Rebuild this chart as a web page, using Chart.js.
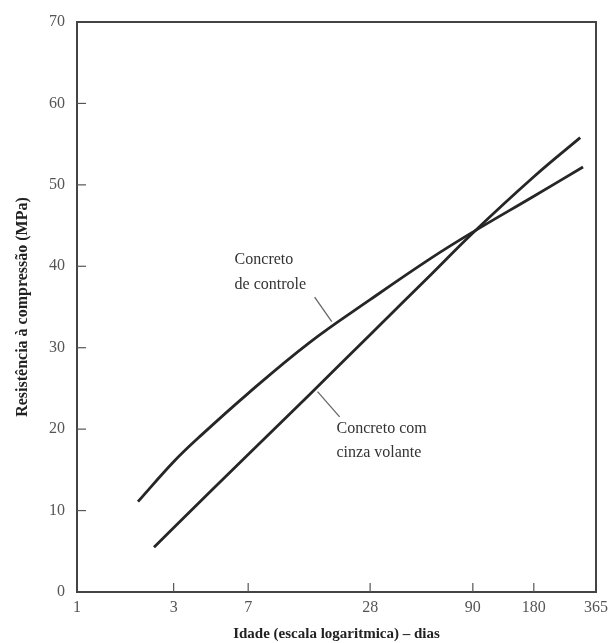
<!DOCTYPE html>
<html>
<head>
<meta charset="utf-8">
<script src="https://cdn.jsdelivr.net/npm/chart.js@4.4.0/dist/chart.umd.min.js"></script>
<style>
    html, body { margin: 0; padding: 0; background: #fff; }
    #wrap { width: 614px; height: 643px; }
</style>
</head>
<body>
<div id="wrap"><canvas id="strengthChart" width="614" height="643"></canvas></div>
<script>
// Data (age in days, strength in MPa)
const controlDays = [2, 3, 4, 7, 14, 28, 56, 90, 180, 315];
const controlMPa = [11.1, 16.0, 19.0, 24.4, 30.6, 35.9, 41.0, 44.2, 48.6, 52.2];
const ashDays = [2.4, 3, 7, 14, 28, 56, 90, 180, 305];
const ashMPa = [5.5, 7.9, 16.9, 24.2, 31.6, 39.0, 44.1, 51.0, 55.8];
const xTickValues = [1, 3, 7, 28, 90, 180, 365];
const yTickValues = [0, 10, 20, 30, 40, 50, 60, 70];

const serif = "'Liberation Serif', 'DejaVu Serif', serif";
const ink = '#262626';

function toPoints(xs, ys) {
    return xs.map((x, i) => ({ x: x, y: ys[i] }));
}

// Frame, inside ticks and the two curve labels
const decorPlugin = {
    id: 'decor',
    afterDraw(chart) {
        const ctx = chart.ctx;
        const area = chart.chartArea;
        const xs = chart.scales.x;
        const ys = chart.scales.y;
        ctx.save();
        ctx.strokeStyle = '#444';
        ctx.lineWidth = 2;
        ctx.strokeRect(area.left, area.top, area.right - area.left, area.bottom - area.top);

        // short ticks pointing into the plot
        ctx.lineWidth = 1.2;
        ctx.strokeStyle = '#555';
        yTickValues.slice(1, -1).forEach(v => {
            const py = ys.getPixelForValue(v);
            ctx.beginPath();
            ctx.moveTo(area.left, py);
            ctx.lineTo(area.left + 9, py);
            ctx.stroke();
        });
        xTickValues.slice(1, -1).forEach(v => {
            const px = xs.getPixelForValue(v);
            ctx.beginPath();
            ctx.moveTo(px, area.bottom);
            ctx.lineTo(px, area.bottom - 9);
            ctx.stroke();
        });

        // curve labels
        ctx.fillStyle = '#333';
        ctx.font = '16px ' + serif;
        ctx.textAlign = 'left';
        ctx.textBaseline = 'middle';
        const label = (text, d, m) => ctx.fillText(text, xs.getPixelForValue(d), ys.getPixelForValue(m));
        label('Concreto', 6.0, 40.8);
        label('de controle', 6.0, 37.7);
        label('Concreto com', 19.1, 20.1);
        label('cinza volante', 19.1, 17.1);

        const pointer = (d1, m1, d2, m2) => {
            ctx.beginPath();
            ctx.moveTo(xs.getPixelForValue(d1), ys.getPixelForValue(m1));
            ctx.lineTo(xs.getPixelForValue(d2), ys.getPixelForValue(m2));
            ctx.stroke();
        };
        ctx.strokeStyle = '#666';
        ctx.lineWidth = 1.3;
        pointer(14.9, 36.2, 18.1, 33.2);
        pointer(15.4, 24.6, 19.8, 21.5);
        ctx.restore();
    }
};

const ctx = document.getElementById('strengthChart').getContext('2d');
new Chart(ctx, {
    type: 'line',
    data: {
        datasets: [
            {
                label: 'Concreto de controle',
                data: toPoints(controlDays, controlMPa),
                borderColor: ink,
                borderWidth: 2.8,
                pointRadius: 0,
                tension: 0.4,
                fill: false
            },
            {
                label: 'Concreto com cinza volante',
                data: toPoints(ashDays, ashMPa),
                borderColor: ink,
                borderWidth: 2.8,
                pointRadius: 0,
                tension: 0.4,
                fill: false
            }
        ]
    },
    options: {
        responsive: false,
        animation: false,
        layout: { padding: { top: 22, right: 16, left: 0, bottom: 0 } },
        plugins: {
            legend: { display: false },
            tooltip: { enabled: false }
        },
        scales: {
            x: {
                type: 'logarithmic',
                min: 1,
                max: 365,
                afterBuildTicks: scale => {
                    scale.ticks = xTickValues.map(v => ({ value: v }));
                },
                afterFit: scale => { scale.height = 51; },
                grid: { display: false, drawTicks: false },
                border: { display: false },
                ticks: {
                    autoSkip: false,
                    maxRotation: 0,
                    padding: 6,
                    color: '#555',
                    font: { family: serif, size: 16 },
                    callback: value => String(value)
                },
                title: {
                    display: true,
                    text: 'Idade (escala logaritmica) – dias',
                    color: '#222',
                    padding: { top: 2, bottom: 0 },
                    font: { family: serif, size: 15, weight: 'bold' }
                }
            },
            y: {
                min: 0,
                max: 70,
                afterBuildTicks: scale => {
                    scale.ticks = yTickValues.map(v => ({ value: v }));
                },
                afterFit: scale => { scale.width = 77; },
                grid: { display: false, drawTicks: false },
                border: { display: false },
                ticks: {
                    padding: 12,
                    color: '#555',
                    font: { family: serif, size: 16 }
                },
                title: {
                    display: true,
                    text: 'Resistência à compressão (MPa)',
                    color: '#222',
                    padding: { top: 13, bottom: 4 },
                    font: { family: serif, size: 16, weight: 'bold' }
                }
            }
        }
    },
    plugins: [decorPlugin]
});
</script>
</body>
</html>
